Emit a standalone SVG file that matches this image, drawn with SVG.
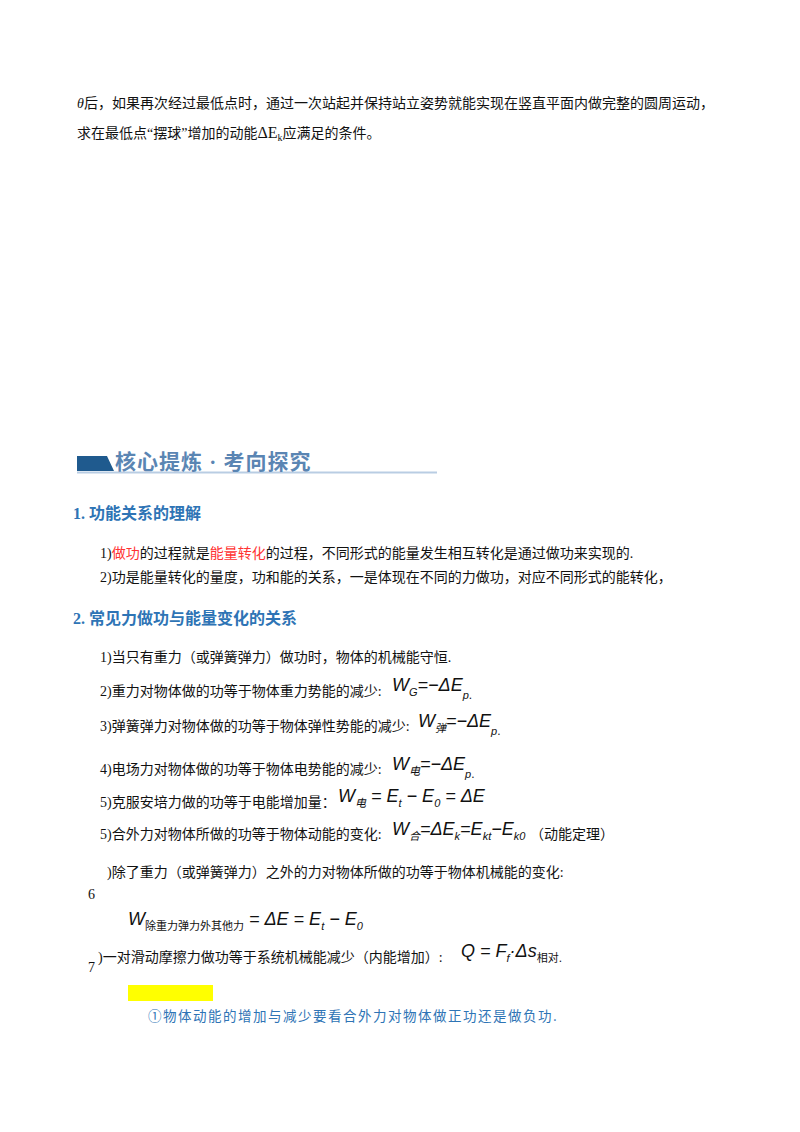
<svg xmlns="http://www.w3.org/2000/svg" width="800" height="1132" viewBox="0 0 800 1132">
<style>
.t{font-family:"Liberation Serif","Noto Sans CJK SC",serif;font-size:14px;fill:#111}
.h{font-family:"Liberation Serif","Noto Sans CJK SC",serif;font-size:16px;font-weight:bold;fill:#2e74b5}
.m{font-family:"Liberation Sans","Noto Sans CJK SC",sans-serif;font-style:italic;font-size:18px;fill:#111}
.s{font-size:11px}
.r{fill:#ff3333}
</style>
<rect width="800" height="1132" fill="#fff"/>
<g id="question">
<text class="t" x="77" y="108"><tspan font-style="italic">θ</tspan>后，如果再次经过最低点时，通过一次站起并保持站立姿势就能实现在竖直平面内做完整的圆周运动，</text>
<text class="t" x="77" y="138">求在最低点“摆球”增加的动能<tspan font-size="16">ΔE</tspan><tspan font-size="10" dy="3">k</tspan><tspan dy="-3">应满足的条件。</tspan></text>
</g>
<g id="banner">
<polygon points="77,456 107,456 114,471 77,471" fill="#1f5a8e"/>
<line x1="77" y1="472.5" x2="437" y2="472.5" stroke="#b9cde3" stroke-width="2"/>
<text x="115" y="469" font-family="Liberation Serif,'Noto Sans CJK SC',serif" font-size="21" font-weight="bold" letter-spacing="1" fill="#5a85b3">核心提炼 · 考向探究</text>
</g>
<g id="sec1">
<text class="h" x="73" y="519">1. 功能关系的理解</text>
<text class="t" x="100" y="558">1)<tspan class="r">做功</tspan>的过程就是<tspan class="r">能量转化</tspan>的过程，不同形式的能量发生相互转化是通过做功来实现的.</text>
<text class="t" x="100" y="582">2)功是能量转化的量度，功和能的关系，一是体现在不同的力做功，对应不同形式的能转化，</text>
</g>
<g id="sec2">
<text class="h" x="73" y="624">2. 常见力做功与能量变化的关系</text>
<text class="t" x="100" y="662">1)当只有重力（或弹簧弹力）做功时，物体的机械能守恒.</text>
<text class="t" x="100" y="696">2)重力对物体做的功等于物体重力势能的减少: </text>
<text class="m" x="392" y="691">W<tspan class="s" dy="5">G</tspan><tspan dy="-5">=−ΔE</tspan><tspan class="s" dy="8">p</tspan><tspan font-style="normal" font-size="12">.</tspan></text>
<text class="t" x="100" y="731">3)弹簧弹力对物体做的功等于物体弹性势能的减少: </text>
<text class="m" x="418" y="727">W<tspan class="s" dy="5">弹</tspan><tspan dy="-5">=−ΔE</tspan><tspan class="s" dy="8">p</tspan><tspan font-style="normal" font-size="12">.</tspan></text>
<text class="t" x="100" y="774">4)电场力对物体做的功等于物体电势能的减少: </text>
<text class="m" x="392" y="770">W<tspan class="s" dy="5">电</tspan><tspan dy="-5">=−ΔE</tspan><tspan class="s" dy="8">p</tspan><tspan font-style="normal" font-size="12">.</tspan></text>
<text class="t" x="100" y="807">5)克服安培力做的功等于电能增加量：</text>
<text class="m" x="338" y="802">W<tspan class="s" dy="5">电</tspan><tspan dy="-5"> = E</tspan><tspan class="s" dy="5">t</tspan><tspan dy="-5"> − E</tspan><tspan class="s" dy="5">0</tspan><tspan dy="-5"> = ΔE</tspan></text>
<text class="t" x="100" y="839">5)合外力对物体所做的功等于物体动能的变化: </text>
<text class="m" x="392" y="835">W<tspan class="s" dy="5">合</tspan><tspan dy="-5">=ΔE</tspan><tspan class="s" dy="5">k</tspan><tspan dy="-5">=E</tspan><tspan class="s" dy="5">kt</tspan><tspan dy="-5">−E</tspan><tspan class="s" dy="5">k0</tspan></text>
<text class="t" x="530" y="839">（动能定理）</text>
<text class="t" x="107" y="877">)除了重力（或弹簧弹力）之外的力对物体所做的功等于物体机械能的变化:</text>
<text class="t" x="88" y="899">6</text>
<text class="m" x="128" y="925">W<tspan class="s" dy="5" font-style="normal">除重力弹力外其他力</tspan><tspan dy="-5"> = ΔE = E</tspan><tspan class="s" dy="5">t</tspan><tspan dy="-5"> − E</tspan><tspan class="s" dy="5">0</tspan></text>
<text class="t" x="98" y="962">)一对滑动摩擦力做功等于系统机械能减少（内能增加）:</text>
<text class="t" x="88" y="972">7</text>
<text class="m" x="461" y="957">Q = F<tspan class="s" dy="5">f</tspan><tspan dy="-5">·Δs</tspan><tspan class="s" dy="5" font-style="normal">相对</tspan><tspan font-style="normal" font-size="12">.</tspan></text>
</g>
<g id="note">
<rect x="128" y="985" width="85" height="16" fill="#ffff00"/>
<text x="148" y="1021" font-family="'Noto Sans CJK SC',sans-serif" font-size="13.5" letter-spacing="1.5" fill="#2e74b5">①物体动能的增加与减少要看合外力对物体做正功还是做负功.</text>
</g>
</svg>
